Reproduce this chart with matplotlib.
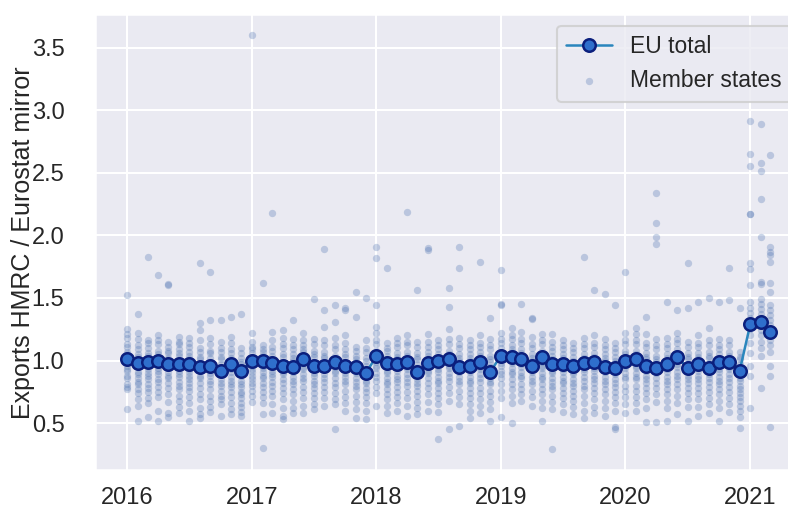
import matplotlib.pyplot as plt
import matplotlib.dates as mdates
import seaborn as sns
import pandas as pd

# monthly ratio HMRC exports / Eurostat mirror imports
months = pd.date_range("2016-01-01", periods=63, freq="MS")

eu_total = [1.01, 0.98, 0.99, 1.00, 0.97, 0.97, 0.97, 0.95, 0.955, 0.92, 0.97, 0.92,
            0.995, 1.00, 0.98, 0.96, 0.95, 1.01, 0.96, 0.96, 0.99, 0.96, 0.95, 0.90,
            1.035, 0.98, 0.97, 0.99, 0.91, 0.98, 1.00, 1.015, 0.95, 0.96, 0.99, 0.91,
            1.04, 1.025, 1.01, 0.96, 1.025, 0.97, 0.975, 0.96, 0.98, 0.99, 0.95, 0.94,
            1.00, 1.01, 0.955, 0.94, 0.97, 1.025, 0.94, 0.97, 0.94, 0.99, 0.99, 0.92,
            1.29, 1.31, 1.23]

# member state ratios, one list per month
members_2016 = [
    [1.52, 1.25, 1.21, 1.18, 1.13, 1.11, 1.07, 1.05, 1.02, 1.00, 0.99, 0.96, 0.93, 0.92, 0.88, 0.86, 0.81, 0.79, 0.77, 0.61],
    [1.37, 1.22, 1.17, 1.12, 1.09, 1.05, 1.03, 0.99, 0.97, 0.95, 0.91, 0.89, 0.86, 0.83, 0.81, 0.77, 0.74, 0.69, 0.64, 0.52],
    [1.83, 1.16, 1.14, 1.10, 1.06, 1.04, 1.02, 0.99, 0.97, 0.93, 0.90, 0.88, 0.85, 0.81, 0.78, 0.75, 0.70, 0.66, 0.55],
    [1.68, 1.20, 1.16, 1.13, 1.08, 1.05, 1.03, 0.99, 0.97, 0.94, 0.92, 0.89, 0.85, 0.83, 0.79, 0.75, 0.71, 0.60, 0.52],
    [1.61, 1.60, 1.15, 1.11, 1.08, 1.06, 1.02, 0.99, 0.96, 0.94, 0.91, 0.88, 0.86, 0.82, 0.78, 0.73, 0.67, 0.58, 0.55],
    [1.19, 1.15, 1.13, 1.09, 1.06, 1.04, 1.00, 0.98, 0.95, 0.92, 0.89, 0.87, 0.83, 0.80, 0.77, 0.72, 0.68, 0.63, 0.58],
    [1.18, 1.14, 1.11, 1.07, 1.04, 1.01, 0.99, 0.96, 0.93, 0.91, 0.88, 0.85, 0.82, 0.79, 0.76, 0.71, 0.66, 0.60, 0.52],
    [1.78, 1.30, 1.24, 1.16, 1.10, 1.07, 1.03, 1.01, 0.97, 0.94, 0.92, 0.88, 0.86, 0.82, 0.78, 0.73, 0.69, 0.62, 0.57, 0.54],
    [1.71, 1.32, 1.18, 1.13, 1.08, 1.06, 1.02, 0.99, 0.97, 0.93, 0.90, 0.88, 0.84, 0.81, 0.77, 0.72, 0.68, 0.63, 0.59],
    [1.32, 1.15, 1.10, 1.07, 1.03, 1.01, 0.97, 0.95, 0.91, 0.89, 0.85, 0.82, 0.80, 0.76, 0.72, 0.69, 0.65, 0.56],
    [1.35, 1.19, 1.14, 1.09, 1.06, 1.02, 1.00, 0.96, 0.93, 0.91, 0.87, 0.84, 0.81, 0.79, 0.75, 0.71, 0.66, 0.61, 0.57],
    [1.37, 1.10, 1.06, 1.02, 0.99, 0.97, 0.93, 0.90, 0.88, 0.84, 0.81, 0.79, 0.75, 0.73, 0.70, 0.66, 0.63, 0.59, 0.56],
]
members_2017 = [
    [3.60, 1.22, 1.15, 1.11, 1.09, 1.06, 1.03, 1.01, 0.98, 0.96, 0.93, 0.91, 0.88, 0.85, 0.82, 0.80, 0.76, 0.72, 0.67],
    [1.62, 1.12, 1.09, 1.07, 1.04, 1.02, 0.99, 0.96, 0.94, 0.91, 0.88, 0.86, 0.82, 0.79, 0.75, 0.71, 0.66, 0.57, 0.30],
    [2.18, 1.23, 1.16, 1.11, 1.08, 1.04, 1.01, 0.98, 0.96, 0.92, 0.89, 0.87, 0.83, 0.80, 0.76, 0.72, 0.65, 0.58],
    [1.24, 1.18, 1.13, 1.10, 1.05, 1.03, 0.99, 0.97, 0.94, 0.91, 0.89, 0.85, 0.82, 0.78, 0.74, 0.69, 0.62, 0.56, 0.53],
    [1.32, 1.17, 1.12, 1.09, 1.05, 1.02, 1.00, 0.96, 0.93, 0.91, 0.87, 0.84, 0.81, 0.77, 0.73, 0.68, 0.62, 0.58],
    [1.22, 1.16, 1.12, 1.09, 1.07, 1.03, 1.01, 0.98, 0.95, 0.93, 0.89, 0.86, 0.84, 0.79, 0.75, 0.70, 0.64, 0.58],
    [1.49, 1.17, 1.13, 1.08, 1.05, 1.03, 0.99, 0.97, 0.93, 0.90, 0.88, 0.84, 0.81, 0.78, 0.74, 0.70, 0.65, 0.61],
    [1.89, 1.40, 1.27, 1.16, 1.12, 1.07, 1.04, 1.02, 0.98, 0.95, 0.93, 0.89, 0.86, 0.83, 0.79, 0.75, 0.70, 0.64],
    [1.44, 1.31, 1.18, 1.12, 1.09, 1.04, 1.01, 0.99, 0.95, 0.92, 0.90, 0.86, 0.82, 0.79, 0.74, 0.69, 0.65, 0.45],
    [1.42, 1.40, 1.20, 1.14, 1.09, 1.05, 1.03, 0.99, 0.96, 0.94, 0.90, 0.87, 0.84, 0.81, 0.76, 0.71, 0.66, 0.60],
    [1.55, 1.35, 1.11, 1.08, 1.04, 1.01, 0.99, 0.95, 0.92, 0.90, 0.86, 0.83, 0.80, 0.77, 0.72, 0.67, 0.61, 0.54],
    [1.50, 1.16, 1.10, 1.07, 1.02, 1.00, 0.96, 0.93, 0.91, 0.87, 0.84, 0.82, 0.78, 0.75, 0.71, 0.66, 0.60, 0.53],
]
members_2018 = [
    [1.91, 1.82, 1.44, 1.27, 1.22, 1.16, 1.13, 1.08, 1.05, 1.03, 0.99, 0.96, 0.94, 0.90, 0.87, 0.84, 0.79, 0.74, 0.64],
    [1.74, 1.14, 1.10, 1.08, 1.04, 1.01, 0.99, 0.95, 0.92, 0.90, 0.86, 0.83, 0.81, 0.77, 0.73, 0.69, 0.64, 0.58],
    [1.18, 1.14, 1.11, 1.06, 1.03, 1.01, 0.97, 0.94, 0.92, 0.88, 0.85, 0.83, 0.79, 0.75, 0.71, 0.66, 0.60],
    [2.19, 1.20, 1.15, 1.12, 1.07, 1.04, 1.02, 0.98, 0.95, 0.93, 0.89, 0.86, 0.83, 0.80, 0.75, 0.70, 0.64, 0.56],
    [1.56, 1.15, 1.11, 1.06, 1.03, 1.01, 0.97, 0.94, 0.91, 0.89, 0.85, 0.82, 0.80, 0.76, 0.72, 0.67, 0.62, 0.57],
    [1.90, 1.88, 1.21, 1.15, 1.11, 1.07, 1.04, 1.01, 0.99, 0.95, 0.92, 0.90, 0.86, 0.82, 0.78, 0.73, 0.67, 0.60],
    [1.16, 1.12, 1.09, 1.05, 1.02, 1.00, 0.96, 0.93, 0.91, 0.87, 0.84, 0.82, 0.78, 0.74, 0.70, 0.65, 0.59, 0.37],
    [1.58, 1.43, 1.25, 1.17, 1.13, 1.08, 1.05, 1.03, 0.99, 0.96, 0.94, 0.90, 0.87, 0.84, 0.79, 0.74, 0.68, 0.45],
    [1.91, 1.74, 1.18, 1.13, 1.10, 1.05, 1.02, 1.00, 0.96, 0.93, 0.91, 0.87, 0.84, 0.81, 0.76, 0.71, 0.65, 0.48],
    [1.16, 1.12, 1.09, 1.05, 1.02, 1.00, 0.96, 0.93, 0.91, 0.87, 0.84, 0.82, 0.78, 0.74, 0.70, 0.65, 0.60, 0.54],
    [1.79, 1.20, 1.14, 1.11, 1.07, 1.04, 1.02, 0.98, 0.95, 0.93, 0.89, 0.86, 0.83, 0.78, 0.74, 0.69, 0.64, 0.58],
    [1.34, 1.17, 1.12, 1.09, 1.04, 1.01, 0.99, 0.95, 0.92, 0.90, 0.86, 0.83, 0.81, 0.76, 0.72, 0.67, 0.61, 0.52],
]
members_2019 = [
    [1.72, 1.45, 1.44, 1.22, 1.17, 1.14, 1.10, 1.07, 1.05, 1.01, 0.98, 0.96, 0.92, 0.89, 0.86, 0.81, 0.76, 0.70, 0.55],
    [1.26, 1.20, 1.17, 1.12, 1.09, 1.07, 1.03, 1.00, 0.98, 0.94, 0.91, 0.89, 0.85, 0.81, 0.77, 0.72, 0.66, 0.50],
    [1.45, 1.23, 1.17, 1.14, 1.09, 1.06, 1.04, 1.00, 0.97, 0.95, 0.91, 0.88, 0.86, 0.81, 0.77, 0.73, 0.68],
    [1.34, 1.33, 1.19, 1.13, 1.10, 1.05, 1.02, 1.00, 0.96, 0.93, 0.91, 0.87, 0.84, 0.81, 0.76, 0.71, 0.64],
    [1.21, 1.16, 1.13, 1.08, 1.05, 1.03, 0.99, 0.96, 0.94, 0.90, 0.87, 0.85, 0.81, 0.77, 0.73, 0.68, 0.62, 0.52],
    [1.21, 1.15, 1.11, 1.08, 1.04, 1.01, 0.99, 0.95, 0.92, 0.90, 0.86, 0.83, 0.80, 0.77, 0.72, 0.67, 0.61, 0.29],
    [1.16, 1.12, 1.09, 1.05, 1.02, 1.00, 0.96, 0.93, 0.91, 0.87, 0.84, 0.82, 0.78, 0.74, 0.70, 0.65, 0.59],
    [1.14, 1.10, 1.07, 1.03, 1.00, 0.98, 0.94, 0.91, 0.89, 0.85, 0.82, 0.80, 0.76, 0.72, 0.68, 0.63, 0.57],
    [1.83, 1.18, 1.13, 1.10, 1.05, 1.02, 1.00, 0.96, 0.93, 0.91, 0.87, 0.84, 0.80, 0.77, 0.72, 0.66, 0.60, 0.54],
    [1.56, 1.20, 1.14, 1.11, 1.06, 1.03, 1.01, 0.97, 0.94, 0.92, 0.88, 0.85, 0.82, 0.78, 0.74, 0.69, 0.63, 0.58],
    [1.53, 1.17, 1.12, 1.09, 1.05, 1.02, 1.00, 0.96, 0.93, 0.91, 0.87, 0.84, 0.81, 0.77, 0.73, 0.68, 0.62, 0.56],
    [1.44, 1.14, 1.10, 1.07, 1.03, 1.00, 0.98, 0.94, 0.91, 0.89, 0.85, 0.82, 0.79, 0.75, 0.71, 0.66, 0.60, 0.47, 0.45],
]
members_2020 = [
    [1.71, 1.22, 1.16, 1.13, 1.08, 1.05, 1.03, 0.99, 0.96, 0.94, 0.90, 0.87, 0.85, 0.80, 0.76, 0.71, 0.65, 0.58],
    [1.26, 1.21, 1.16, 1.13, 1.08, 1.05, 1.03, 0.99, 0.96, 0.94, 0.90, 0.87, 0.85, 0.80, 0.76, 0.71, 0.66, 0.60],
    [1.35, 1.21, 1.14, 1.11, 1.06, 1.03, 1.01, 0.97, 0.94, 0.92, 0.88, 0.85, 0.82, 0.78, 0.74, 0.69, 0.62, 0.51],
    [2.34, 2.10, 1.99, 1.93, 1.17, 1.12, 1.09, 1.04, 1.01, 0.99, 0.95, 0.92, 0.90, 0.86, 0.82, 0.78, 0.73, 0.67, 0.51],
    [1.47, 1.18, 1.13, 1.10, 1.05, 1.02, 1.00, 0.96, 0.93, 0.91, 0.87, 0.84, 0.81, 0.77, 0.73, 0.68, 0.62, 0.52],
    [1.40, 1.22, 1.17, 1.14, 1.09, 1.06, 1.04, 1.00, 0.97, 0.95, 0.91, 0.88, 0.85, 0.81, 0.77, 0.72, 0.66, 0.57],
    [1.78, 1.42, 1.15, 1.11, 1.06, 1.03, 1.01, 0.97, 0.94, 0.92, 0.88, 0.85, 0.82, 0.78, 0.74, 0.69, 0.63, 0.52],
    [1.47, 1.20, 1.14, 1.11, 1.06, 1.03, 1.01, 0.97, 0.94, 0.92, 0.88, 0.85, 0.82, 0.78, 0.74, 0.69, 0.63, 0.56],
    [1.50, 1.26, 1.16, 1.12, 1.07, 1.04, 1.02, 0.98, 0.95, 0.93, 0.89, 0.86, 0.83, 0.79, 0.75, 0.70, 0.65, 0.58],
    [1.47, 1.17, 1.12, 1.09, 1.05, 1.02, 1.00, 0.96, 0.93, 0.91, 0.87, 0.84, 0.81, 0.77, 0.73, 0.68, 0.62, 0.52],
    [1.74, 1.48, 1.16, 1.12, 1.07, 1.04, 1.02, 0.98, 0.95, 0.93, 0.89, 0.86, 0.83, 0.79, 0.75, 0.70, 0.65, 0.59],
    [1.42, 1.07, 1.03, 1.01, 0.97, 0.94, 0.92, 0.89, 0.86, 0.84, 0.80, 0.77, 0.74, 0.71, 0.68, 0.64, 0.60, 0.55, 0.46],
]
members_2021 = [
    [2.91, 2.65, 2.55, 2.17, 2.17, 1.78, 1.73, 1.60, 1.47, 1.42, 1.38, 1.34, 1.31, 1.28, 1.25, 1.20, 1.14, 1.06, 0.96, 0.88, 0.62],
    [2.89, 2.58, 2.51, 2.29, 1.99, 1.63, 1.61, 1.49, 1.45, 1.41, 1.37, 1.34, 1.31, 1.28, 1.24, 1.20, 1.15, 1.10, 1.04, 0.78],
    [2.64, 1.91, 1.87, 1.84, 1.79, 1.62, 1.55, 1.44, 1.40, 1.36, 1.32, 1.28, 1.24, 1.20, 1.16, 1.12, 1.07, 0.96, 0.88, 0.47],
]

members = members_2016 + members_2017 + members_2018 + members_2019 + members_2020 + members_2021

ms_x = []
ms_y = []
for m, vals in zip(months, members):
    ms_x += [m] * len(vals)
    ms_y += vals

sns.set_theme(context="talk", style="darkgrid")
plt.rcParams['font.family'] = ['Liberation Sans', 'DejaVu Sans']
plt.rcParams['xtick.labelsize'] = 17
plt.rcParams['ytick.labelsize'] = 17

fig = plt.figure(figsize=(7.88, 5.11), dpi=100)
ax = fig.add_axes([0.1205, 0.080, 0.898, 0.892])

ax.plot(months, eu_total, color='#2a86bd', linewidth=1.8, marker='o', markersize=9,
        markerfacecolor='#2f6fcc', markeredgecolor='#0b1f7d', markeredgewidth=1.8,
        label='EU total', zorder=3)
ax.scatter(ms_x, ms_y, s=28, color='#4c72b0', alpha=0.3, linewidths=0,
           label='Member states', zorder=2)

ax.xaxis.set_major_locator(mdates.YearLocator())
ax.xaxis.set_major_formatter(mdates.DateFormatter('%Y'))
ax.set_yticks([0.5, 1.0, 1.5, 2.0, 2.5, 3.0, 3.5])
ax.tick_params(axis='y', pad=13)

ax.set_ylabel('Exports HMRC / Eurostat mirror')
ax.yaxis.set_label_coords(-0.085, 0.5)
ax.legend(loc='upper right')

fig.savefig("out.png", dpi=100)
